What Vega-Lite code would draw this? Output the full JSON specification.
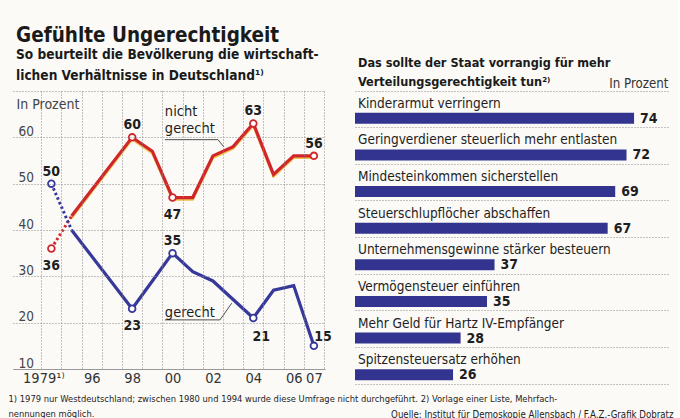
{
  "$schema": "https://vega.github.io/schema/vega-lite/v6.json",
  "background": "#fbfaf7",
  "padding": {"left": 8, "top": 25, "right": 5, "bottom": 0},
  "config": {
    "font": "DejaVu Sans Condensed, DejaVu Sans, sans-serif",
    "view": {"stroke": null},
    "text": {"color": "#1e1e1e"},
    "title": {"color": "#1a1a1a"},
    "axis": {"labelColor": "#333333", "titleColor": "#333333"}
  },
  "title": {"text": "Gefühlte Ungerechtigkeit", "anchor": "start", "fontSize": 20.5, "fontWeight": "bold", "offset": 2, "dx": 8},
  "bounds": "flush",
  "spacing": 30,
  "hconcat": [
    {
      "width": 312,
      "height": 278,
      "title": {"text": ["So beurteilt die Bevölkerung die wirtschaft-", "lichen Verhältnisse in Deutschland¹⁾"], "anchor": "start", "frame": "group", "fontSize": 13.6, "fontWeight": "bold", "lineHeight": 21, "offset": 8, "dx": 3},
      "data": {"values": [
        {"serie": "nicht gerecht", "jahr": "1979", "slot": 1994, "wert": 36, "lp": "unten"},
        {"serie": "nicht gerecht", "jahr": "1995", "slot": 1995, "wert": 43},
        {"serie": "nicht gerecht", "jahr": "1998", "slot": 1998, "wert": 60, "lp": "oben"},
        {"serie": "nicht gerecht", "jahr": "1999", "slot": 1999, "wert": 57},
        {"serie": "nicht gerecht", "jahr": "2000", "slot": 2000, "wert": 47, "lp": "unten"},
        {"serie": "nicht gerecht", "jahr": "2001", "slot": 2001, "wert": 47},
        {"serie": "nicht gerecht", "jahr": "2002", "slot": 2002, "wert": 56},
        {"serie": "nicht gerecht", "jahr": "2003", "slot": 2003, "wert": 58},
        {"serie": "nicht gerecht", "jahr": "2004", "slot": 2004, "wert": 63, "lp": "oben"},
        {"serie": "nicht gerecht", "jahr": "2005", "slot": 2005, "wert": 52},
        {"serie": "nicht gerecht", "jahr": "2006", "slot": 2006, "wert": 56},
        {"serie": "nicht gerecht", "jahr": "2007", "slot": 2007, "wert": 56, "lp": "oben"},
        {"serie": "gerecht", "jahr": "1979", "slot": 1994, "wert": 50, "lp": "oben"},
        {"serie": "gerecht", "jahr": "1995", "slot": 1995, "wert": 40},
        {"serie": "gerecht", "jahr": "1998", "slot": 1998, "wert": 23, "lp": "unten"},
        {"serie": "gerecht", "jahr": "1999", "slot": 1999, "wert": 29},
        {"serie": "gerecht", "jahr": "2000", "slot": 2000, "wert": 35, "lp": "oben"},
        {"serie": "gerecht", "jahr": "2001", "slot": 2001, "wert": 31},
        {"serie": "gerecht", "jahr": "2002", "slot": 2002, "wert": 29},
        {"serie": "gerecht", "jahr": "2003", "slot": 2003, "wert": 25},
        {"serie": "gerecht", "jahr": "2004", "slot": 2004, "wert": 21, "lp": "untenrechts"},
        {"serie": "gerecht", "jahr": "2005", "slot": 2005, "wert": 27},
        {"serie": "gerecht", "jahr": "2006", "slot": 2006, "wert": 28},
        {"serie": "gerecht", "jahr": "2007", "slot": 2007, "wert": 15, "lp": "obenrechts"}
      ]},
      "encoding": {
        "x": {
          "field": "slot", "type": "quantitative",
          "scale": {"domain": [1992.1, 2007.55], "nice": false, "zero": false},
          "axis": {
            "values": [1993.5, 1994, 1994.5, 1995.5, 1996, 1996.5, 1997.5, 1998, 1998.5, 1999.5, 2000, 2000.5, 2001.5, 2002, 2002.5, 2003.5, 2004, 2004.5, 2005.5, 2006, 2006.5, 2007, 2007.5],
            "labelExpr": "datum.value % 1 != 0 ? '' : (datum.value == 1994 ? '1979¹⁾' : slice(toString(datum.value), 2))",
            "labelOverlap": false,
            "labelFlush": false,
            "labelFontSize": 14.5,
            "labelPadding": 2,
            "labelBaseline": "top",
            "labelOffset": {"condition": {"test": "datum.value == 1994", "value": -8}, "value": 0},
            "ticks": false,
            "tickSize": 0,
            "grid": true,
            "gridDash": [1, 2],
            "gridColor": "#8a8a8a",
            "gridOpacity": {"condition": {"test": "datum.value % 1 != 0", "value": 1}, "value": 0},
            "domain": true,
            "domainColor": "#999999",
            "zindex": 1,
            "title": ["1) 1979 nur Westdeutschland; zwischen 1980 und 1994 wurde diese Umfrage nicht durchgeführt. 2) Vorlage einer Liste, Mehrfach-", "nennungen möglich."],
            "titleX": -5,
            "titleY": 32,
            "titleAlign": "left",
            "titleBaseline": "alphabetic",
            "titleFontSize": 9.3,
            "titleFontWeight": "normal",
            "titleLineHeight": 15,
            "titleLimit": 1000,
            "titleColor": "#222222"
          }
        },
        "y": {
          "field": "wert", "type": "quantitative",
          "scale": {"domain": [10, 70], "nice": false, "zero": false},
          "axis": {
            "values": [10, 20, 30, 40, 50, 60, 70],
            "labelExpr": "datum.value == 70 ? '' : datum.label",
            "labelAlign": "left",
            "labelBaseline": "alphabetic",
            "labelPadding": -5,
            "labelOffset": -2,
            "labelFontSize": 13.5,
            "labelColor": "#444444",
            "ticks": false,
            "tickSize": 0,
            "domain": false,
            "grid": true,
            "gridDash": [1, 2],
            "gridColor": "#8a8a8a",
            "zindex": 1,
            "title": "In Prozent",
            "titleAngle": 0,
            "titleAlign": "left",
            "titleBaseline": "alphabetic",
            "titleX": 3,
            "titleY": 17,
            "titleFontSize": 14,
            "titleFontWeight": "normal",
            "titleColor": "#444444"
          }
        }
      },
      "layer": [
        {
          "data": {"values": [{"von": 10, "bis": 20}, {"von": 30, "bis": 40}, {"von": 50, "bis": 60}]},
          "mark": {"type": "rect", "color": "#dadada"},
          "encoding": {
            "x": {"datum": 1992.1},
            "x2": {"datum": 2007.55},
            "y": {"field": "von", "type": "quantitative", "scale": {"domain": [10, 70], "nice": false, "zero": false}},
            "y2": {"field": "bis"}
          }
        },
        {
          "transform": [{"filter": "datum.serie == 'nicht gerecht' && datum.slot >= 1995"}],
          "mark": {"type": "line", "color": "#f2c24a", "strokeWidth": 2.5, "yOffset": 2}
        },
        {
          "transform": [{"filter": "datum.slot <= 1995"}],
          "mark": {"type": "line", "strokeWidth": 3, "strokeDash": [2.5, 2.5], "strokeCap": "butt"},
          "encoding": {"color": {"field": "serie", "type": "nominal", "scale": {"domain": ["nicht gerecht", "gerecht"], "range": ["#d0262b", "#37399a"]}, "legend": null}}
        },
        {
          "transform": [{"filter": "datum.slot >= 1995"}],
          "mark": {"type": "line", "strokeWidth": 3.2},
          "encoding": {"color": {"field": "serie", "type": "nominal", "scale": {"domain": ["nicht gerecht", "gerecht"], "range": ["#d0262b", "#37399a"]}, "legend": null}}
        },
        {
          "transform": [{"filter": "isValid(datum.lp)"}],
          "mark": {"type": "point", "shape": "circle", "size": 45, "filled": false, "fill": "#ffffff", "fillOpacity": 1, "strokeWidth": 1.8, "opacity": 1},
          "encoding": {"color": {"field": "serie", "type": "nominal", "scale": {"domain": ["nicht gerecht", "gerecht"], "range": ["#d0262b", "#37399a"]}, "legend": null}}
        },
        {
          "transform": [{"filter": "datum.lp == 'oben'"}],
          "mark": {"type": "text", "fontWeight": "bold", "fontSize": 14, "baseline": "alphabetic", "dy": -8},
          "encoding": {"text": {"field": "wert"}}
        },
        {
          "transform": [{"filter": "datum.lp == 'unten'"}],
          "mark": {"type": "text", "fontWeight": "bold", "fontSize": 14, "baseline": "top", "dy": 10},
          "encoding": {"text": {"field": "wert"}}
        },
        {
          "transform": [{"filter": "datum.lp == 'untenrechts'"}],
          "mark": {"type": "text", "fontWeight": "bold", "fontSize": 14, "baseline": "top", "dy": 12, "dx": 8},
          "encoding": {"text": {"field": "wert"}}
        },
        {
          "transform": [{"filter": "datum.lp == 'obenrechts'"}],
          "mark": {"type": "text", "fontWeight": "bold", "fontSize": 14, "baseline": "alphabetic", "dy": -5, "dx": 9},
          "encoding": {"text": {"field": "wert"}}
        },
        {
          "data": {"values": [
            {"slot": 1999.62, "wert": 64.6, "txt": "nicht\ngerecht"},
            {"slot": 1999.62, "wert": 21.2, "txt": "gerecht"}
          ]},
          "mark": {"type": "text", "align": "left", "baseline": "alphabetic", "fontSize": 14.5, "lineBreak": "\n", "lineHeight": 17},
          "encoding": {"text": {"field": "txt"}}
        },
        {
          "data": {"values": [
            {"g": "n", "slot": 1999.62, "wert": 59.5},
            {"g": "n", "slot": 2002.25, "wert": 59.5},
            {"g": "n", "slot": 2002.55, "wert": 57.9},
            {"g": "g", "slot": 1999.62, "wert": 20.6},
            {"g": "g", "slot": 2002.35, "wert": 20.6},
            {"g": "g", "slot": 2002.93, "wert": 24.2}
          ]},
          "mark": {"type": "line", "color": "#222222", "strokeWidth": 0.8},
          "encoding": {"detail": {"field": "g"}}
        }
      ]
    },
    {
      "width": 313,
      "height": 293,
      "title": {"text": ["Das sollte der Staat vorrangig für mehr", "Verteilungsgerechtigkeit tun²⁾"], "anchor": "start", "frame": "group", "fontSize": 12.6, "fontWeight": "bold", "lineHeight": 19, "offset": -13, "dx": 3},
      "data": {"values": [
        {"massnahme": "Kinderarmut verringern", "prozent": 74},
        {"massnahme": "Geringverdiener steuerlich mehr entlasten", "prozent": 72},
        {"massnahme": "Mindesteinkommen sicherstellen", "prozent": 69},
        {"massnahme": "Steuerschlupflöcher abschaffen", "prozent": 67},
        {"massnahme": "Unternehmensgewinne stärker besteuern", "prozent": 37},
        {"massnahme": "Vermögensteuer einführen", "prozent": 35},
        {"massnahme": "Mehr Geld für Hartz IV-Empfänger", "prozent": 28},
        {"massnahme": "Spitzensteuersatz erhöhen", "prozent": 26}
      ]},
      "encoding": {
        "y": {
          "field": "massnahme", "type": "nominal", "sort": null,
          "scale": {"paddingInner": 0, "paddingOuter": 0},
          "axis": {
            "labels": false, "ticks": false, "domain": false,
            "grid": true, "bandPosition": 0, "gridDash": [1, 2], "gridColor": "#8a8a8a",
            "title": "In Prozent", "titleAngle": 0, "titleAlign": "right", "titleBaseline": "alphabetic",
            "titleX": 313, "titleY": -4, "titleFontSize": 13.2, "titleFontWeight": "normal", "titleColor": "#333333"
          }
        },
        "x": {
          "field": "prozent", "type": "quantitative",
          "scale": {"domain": [0, 83], "nice": false},
          "axis": {
            "labels": false, "ticks": false, "grid": false,
            "domain": true, "domainDash": [1, 2], "domainColor": "#8a8a8a",
            "title": "Quelle: Institut für Demoskopie Allensbach / F.A.Z.-Grafik Dobratz",
            "titleX": 318, "titleY": 33, "titleAlign": "right", "titleBaseline": "alphabetic",
            "titleFontSize": 9.6, "titleFontWeight": "normal", "titleColor": "#222222", "titleLimit": 1000
          }
        }
      },
      "layer": [
        {"mark": {"type": "bar", "height": 11, "yOffset": 9, "color": "#33348f"}},
        {
          "mark": {"type": "text", "align": "left", "baseline": "middle", "dx": 3, "dy": -5.5, "fontSize": 13.5},
          "encoding": {"x": {"datum": 0}, "text": {"field": "massnahme"}}
        },
        {
          "mark": {"type": "text", "align": "left", "baseline": "middle", "dx": 6, "dy": 9.5, "fontSize": 14, "fontWeight": "bold"},
          "encoding": {"text": {"field": "prozent"}}
        }
      ]
    }
  ]
}
